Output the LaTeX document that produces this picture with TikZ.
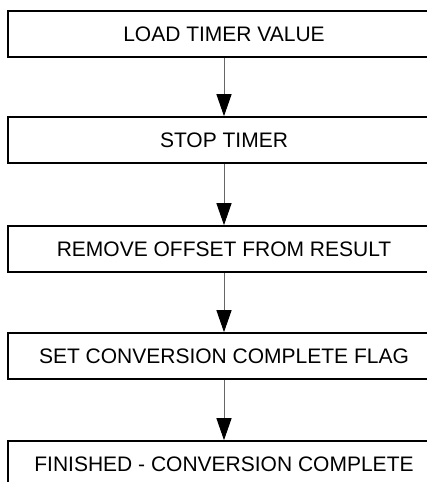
\documentclass[tikz,border=0pt]{standalone}
\usepackage{fontspec}
\setmainfont{Liberation Sans}
\usetikzlibrary{arrows.meta}

\tikzset{
  stage/.style = {draw, line width=1.6pt, minimum width=432pt, minimum height=46pt,
                  inner sep=0pt, font=\fontsize{21}{25}\selectfont},
  flow/.style = {draw=black!60, line width=1pt,
                 -{Triangle[length=22pt,width=15pt,color=black,fill=black]}}
}

\begin{document}
\begin{tikzpicture}[x=1pt, y=-1pt]

\useasboundingbox (0,0) rectangle (427,482);
\clip (0,0) rectangle (427,482);

\node[stage] (load)   at (224,34)  {LOAD TIMER VALUE};
\node[stage] (stop)   at (224,140) {STOP TIMER};
\node[stage] (offset) at (224,249) {REMOVE OFFSET FROM RESULT};
\node[stage] (flag)   at (224,356) {SET CONVERSION COMPLETE FLAG};
\node[stage] (done)   at (224,464) {FINISHED - CONVERSION COMPLETE};

\draw[flow] (load)   -- (stop);
\draw[flow] (stop)   -- (offset);
\draw[flow] (offset) -- (flag);
\draw[flow] (flag)   -- (done);

\end{tikzpicture}
\end{document}
